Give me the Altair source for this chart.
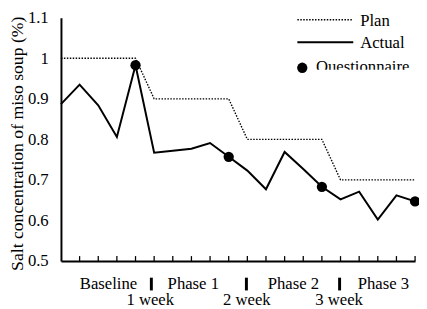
import altair as alt
import pandas as pd

# ---- data ----
idx = list(range(20))
actual = [0.887, 0.935, 0.884, 0.806, 0.983, 0.767, 0.772, 0.777, 0.791, 0.757,
          0.723, 0.677, 0.769, 0.727, 0.683, 0.652, 0.671, 0.602, 0.662, 0.647]
plan = [1.0, 1.0, 1.0, 1.0, 1.0, 0.9, 0.9, 0.9, 0.9, 0.9,
        0.8, 0.8, 0.8, 0.8, 0.8, 0.7, 0.7, 0.7, 0.7, 0.7]
questionnaire_idx = [4, 9, 14, 19]
tick_pos = list(range(1, 20))
y_ticks = [0.5, 0.6, 0.7, 0.8, 0.9, 1.0, 1.1]
phases = ["Baseline", "Phase 1", "Phase 2", "Phase 3"]
phase_pos = [2.55, 7.1, 12.47, 17.3]
weeks = ["1 week", "2 week", "3 week"]
week_pos = [4.79, 9.97, 14.92]
sep_pos = [4.85, 9.95, 14.95]

FONT = "Times New Roman, Liberation Serif, Times, serif"
W, H = 361, 248

df = pd.DataFrame({"i": idx, "actual": actual, "plan": plan})
dq = pd.DataFrame({"i": questionnaire_idx,
                   "v": [actual[k] for k in questionnaire_idx]})
dt = pd.DataFrame({"i": tick_pos})
dp = pd.DataFrame({"i": phase_pos, "label": phases})
dw = pd.DataFrame({"i": week_pos, "label": weeks})
ds = pd.DataFrame({"i": sep_pos})
one = pd.DataFrame({"k": [0]})

xscale = alt.Scale(domain=[0, 19], nice=False, zero=False)
yscale = alt.Scale(domain=[0.5, 1.1], nice=False, zero=False)

xaxis = alt.Axis(labels=False, ticks=False, grid=False, title=None,
                 domainColor="black", domainWidth=2)
yaxis = alt.Axis(values=y_ticks, format=".1~f", ticks=False, tickSize=0,
                 grid=False, domainColor="black", domainWidth=2,
                 labelFont=FONT, labelFontSize=17, labelColor="black",
                 labelPadding=13,
                 title="Salt concentration of miso soup (%)",
                 titleFont=FONT, titleFontSize=18, titleFontWeight="normal",
                 titleColor="black", titleX=-44, titleY=128, titleAngle=-90,
                 titleAlign="center", titleBaseline="middle")

X = alt.X("i:Q", scale=xscale, axis=xaxis)

plan_line = alt.Chart(df).mark_line(color="black", strokeWidth=1.4,
                                    strokeDash=[1.5, 1.5]).encode(
    x=X, y=alt.Y("plan:Q", scale=yscale, axis=yaxis))
actual_line = alt.Chart(df).mark_line(color="black", strokeWidth=2).encode(
    x=X, y=alt.Y("actual:Q", scale=yscale, axis=yaxis))
points = alt.Chart(dq).mark_circle(color="black", opacity=1, size=110).encode(
    x=X, y=alt.Y("v:Q", scale=yscale, axis=yaxis))

ticks = alt.Chart(dt).mark_rule(color="black", strokeWidth=1.3).encode(
    x=X, y=alt.value(H), y2=alt.value(H - 5))
seps = alt.Chart(ds).mark_rule(color="black", strokeWidth=3).encode(
    x=X, y=alt.value(265), y2=alt.value(278))
phase_txt = alt.Chart(dp).mark_text(font=FONT, fontSize=17, color="black",
                                    baseline="alphabetic").encode(
    x=X, y=alt.value(277), text="label:N")
week_txt = alt.Chart(dw).mark_text(font=FONT, fontSize=17, color="black",
                                   baseline="alphabetic").encode(
    x=X, y=alt.value(293), text="label:N")

# ---- legend drawn inside the plot ----
leg_plan = alt.Chart(one).mark_rule(color="black", strokeWidth=1.4,
                                    strokeDash=[1.5, 1.5]).encode(
    x=alt.value(241), x2=alt.value(298), y=alt.value(2))
leg_actual = alt.Chart(one).mark_rule(color="black", strokeWidth=2).encode(
    x=alt.value(241), x2=alt.value(298), y=alt.value(25))
leg_dot = alt.Chart(one).mark_circle(color="black", opacity=1, size=110).encode(
    x=alt.value(246), y=alt.value(51))
leg_t1 = alt.Chart(one).mark_text(text="Plan", font=FONT, fontSize=17,
                                  color="black", align="left",
                                  baseline="middle").encode(
    x=alt.value(305), y=alt.value(3))
leg_t2 = alt.Chart(one).mark_text(text="Actual", font=FONT, fontSize=17,
                                  color="black", align="left",
                                  baseline="middle").encode(
    x=alt.value(305), y=alt.value(26))
leg_t3 = alt.Chart(one).mark_text(text="Questionnaire", font=FONT, fontSize=17,
                                  color="black", align="left",
                                  baseline="middle").encode(
    x=alt.value(260), y=alt.value(50))
leg_clip = alt.Chart(one).mark_rect(color="white", opacity=1).encode(
    x=alt.value(256), x2=alt.value(365), y=alt.value(53), y2=alt.value(64))

chart = alt.layer(
    plan_line, actual_line, points, ticks, seps, phase_txt, week_txt,
    leg_plan, leg_actual, leg_dot, leg_t1, leg_t2, leg_t3, leg_clip
).properties(
    width=W, height=H,
    autosize=alt.AutoSizeParams(type="none"),
    padding={"left": 54, "top": 7, "right": 4, "bottom": 46},
    background="white",
).configure_view(stroke=None)

chart.save("out.html", embed_options={"renderer": "svg", "actions": False})
